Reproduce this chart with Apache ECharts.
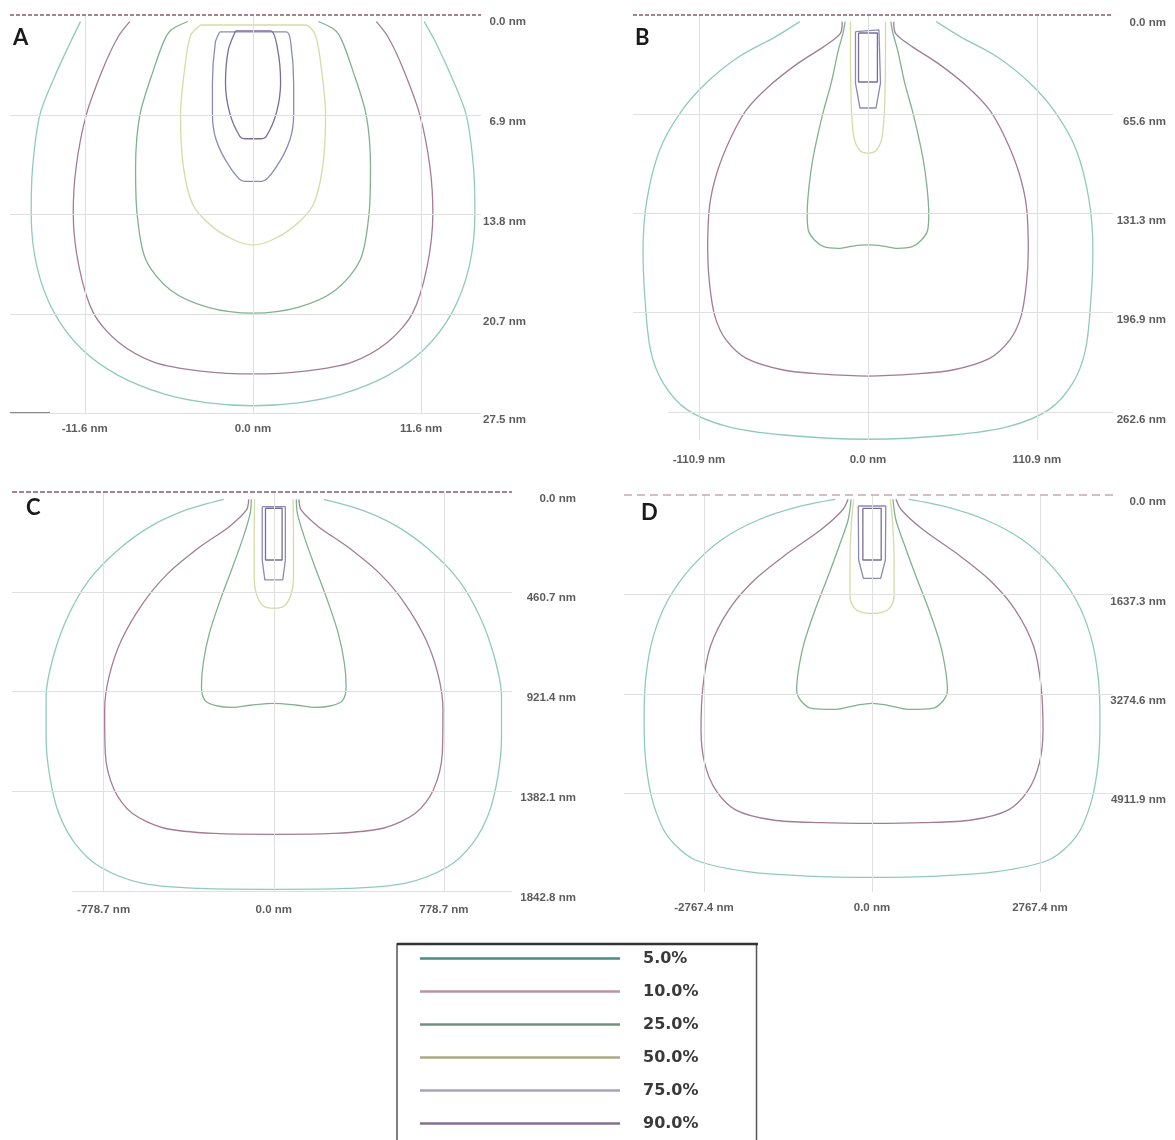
<!DOCTYPE html>
<html><head><meta charset="utf-8">
<script src="https://cdn.jsdelivr.net/npm/echarts/dist/echarts.min.js"></script>
<style>html,body{margin:0;padding:0;background:#fff}#c{width:1175px;height:1140px}</style>
</head><body><div id="c"></div>
<script>
// ---------- DATA (x in nm, depth in nm) ----------
const levels = ['5.0%','10.0%','25.0%','50.0%','75.0%','90.0%'];

// Panel A
const A_xTicks = [-11.6, 0, 11.6];
const A_yTicks = [0, 6.9, 13.8, 20.7, 27.5];
const A_5  = [[-11.9,0.46],[-12.6,1.9],[-13.7,4.3],[-14.7,6.9],[-15.2,10.5],[-15.3,13.7],[-14.9,17.4],[-13.7,20.6],[-11.8,23.1],[-9.3,24.9],[-6.1,26.2],[-3.1,26.8],[0,27.0],[3.1,26.8],[6.1,26.2],[9.3,24.9],[11.8,23.1],[13.7,20.6],[14.9,17.4],[15.3,13.7],[15.2,10.5],[14.7,6.9],[13.7,4.3],[12.6,1.9],[11.8,0.46]];
const A_10 = [[-8.5,0.46],[-9.3,1.5],[-10.3,3.6],[-11.5,6.9],[-12.2,10.5],[-12.4,13.7],[-12.0,17.4],[-11.0,20.6],[-9.3,22.6],[-6.8,24.0],[-3.6,24.6],[0,24.8],[3.6,24.6],[6.8,24.0],[9.3,22.6],[11.0,20.6],[12.0,17.4],[12.4,13.7],[12.2,10.5],[11.5,6.9],[10.3,3.6],[9.3,1.5],[8.5,0.46]];
const A_25 = [[-4.5,0.45],[-5.6,1.0],[-6.1,1.7],[-6.8,3.6],[-7.8,6.9],[-8.1,10.5],[-8.0,13.7],[-7.4,16.9],[-5.7,19.0],[-3.1,20.2],[0,20.6],[3.1,20.2],[5.7,19.0],[7.4,16.9],[8.0,13.7],[8.1,10.5],[7.8,6.9],[6.8,3.6],[6.1,1.7],[5.6,1.0],[4.5,0.45]];
const A_50 = [[-3.6,0.69],[-4.3,1.4],[-4.7,3.6],[-5.0,6.9],[-4.8,10.5],[-4.1,13.2],[-2.3,15.0],[0,15.9],[2.3,15.0],[4.1,13.2],[4.8,10.5],[5.0,6.9],[4.7,3.6],[4.3,1.4],[3.6,0.69],[-3.6,0.69]];
const A_75 = [[-2.3,1.17],[-2.6,1.9],[-2.8,4.7],[-2.8,6.8],[-2.55,8.6],[-1.6,10.5],[-0.6,11.5],[0.6,11.5],[1.6,10.5],[2.55,8.6],[2.8,6.8],[2.8,4.7],[2.6,1.9],[2.3,1.17],[-2.3,1.17]];
const A_90 = [[-1.2,1.1],[-1.7,2.4],[-1.9,4.7],[-1.6,6.8],[-0.9,8.4],[-0.5,8.55],[0.5,8.55],[0.9,8.4],[1.6,6.8],[1.9,4.7],[1.7,2.4],[1.2,1.1],[-1.2,1.1]];
const A_edgeMark = [[-16.76,27.5],[-14.0,27.5]];

// Panel B
const B_xTicks = [-110.9, 0, 110.9];
const B_yTicks = [0, 65.6, 131.3, 196.9, 262.6];
const B_5  = [[-44.8,4.4],[-60.5,14.3],[-84.7,27.6],[-106.4,45.2],[-123.4,65.0],[-136.7,89.3],[-145.1,122.4],[-147.6,155.4],[-146.3,188.5],[-142.7,221.6],[-134.3,243.6],[-118.5,261.2],[-91.9,272.3],[-55.6,277.8],[0,280.6],[55.6,277.8],[91.9,272.3],[118.5,261.2],[134.3,243.6],[142.7,221.6],[146.3,188.5],[147.6,155.4],[145.1,122.4],[136.7,89.3],[123.4,65.0],[106.4,45.2],[84.7,27.6],[60.5,14.3],[44.8,4.4]];
const B_10 = [[-16.9,4.4],[-18.1,12.1],[-29.0,20.9],[-46.0,32.0],[-65.3,47.4],[-79.8,62.8],[-90.7,82.7],[-99.2,104.7],[-104.0,126.8],[-105.2,155.4],[-104.0,177.5],[-100.4,199.5],[-93.1,214.9],[-79.8,227.1],[-55.6,234.8],[-31.4,237.4],[0,238.8],[31.4,237.4],[55.6,234.8],[79.8,227.1],[93.1,214.9],[100.4,199.5],[104.0,177.5],[105.2,155.4],[104.0,126.8],[99.2,104.7],[90.7,82.7],[79.8,62.8],[65.3,47.4],[46.0,32.0],[29.0,20.9],[18.1,12.1],[16.9,4.4]];
const B_25 = [[-15.0,4.4],[-16.4,12.1],[-19.4,23.1],[-24.2,45.2],[-29.0,62.8],[-32.7,78.3],[-36.3,95.9],[-38.7,113.5],[-39.9,131.2],[-39.2,142.2],[-35.1,148.8],[-29.0,153.2],[-19.4,154.3],[-9.7,152.8],[0,152.1],[9.7,152.8],[19.4,154.3],[29.0,153.2],[35.1,148.8],[39.2,142.2],[39.9,131.2],[38.7,113.5],[36.3,95.9],[32.7,78.3],[29.0,62.8],[24.2,45.2],[19.4,23.1],[16.4,12.1],[15.0,4.4]];
const B_50 = [[-11.5,4.4],[-11.5,25],[-11.3,45],[-10.7,65],[-9.0,82],[-5.0,90],[0,91.3],[5.0,90],[9.0,82],[10.7,65],[11.3,45],[11.5,25],[11.5,4.4]];
const B_75 = [[-8.2,11],[-7.2,9.9],[7.2,9.9],[8.2,11],[8.2,45],[5.3,61.5],[-5.3,61.5],[-8.2,45],[-8.2,11]];
const B_90 = [[-6.2,11.9],[6.2,11.9],[6.2,44.3],[-6.2,44.3],[-6.2,11.9]];

// Panel C
const C_xTicks = [-778.7, 0, 778.7];
const C_yTicks = [0, 460.7, 921.4, 1382.1, 1842.8];
const C_5  = [[-229,34],[-401,83],[-566,160],[-713,268],[-845,406],[-943,576],[-1009,761],[-1042,945],[-1042,1130],[-1025,1315],[-984,1484],[-910,1623],[-796,1731],[-599,1808],[-336,1831],[0,1835],[336,1831],[599,1808],[796,1731],[910,1623],[984,1484],[1025,1315],[1042,1130],[1042,945],[1009,761],[943,576],[845,406],[713,268],[566,160],[401,83],[229,34]];
const C_10 = [[-115,34],[-125,83],[-204,160],[-336,252],[-484,376],[-599,514],[-697,684],[-754,853],[-774,1007],[-771,1207],[-730,1376],[-648,1484],[-500,1553],[-270,1577],[0,1581],[270,1577],[500,1553],[648,1484],[730,1376],[771,1207],[774,1007],[754,853],[697,684],[599,514],[484,376],[336,252],[204,160],[125,83],[115,34]];
const C_25 = [[-103,34],[-108,99],[-139,206],[-188,345],[-245,499],[-295,653],[-323,791],[-331,899],[-316,961],[-270,985],[-188,995],[-106,985],[0,976],[106,985],[188,995],[270,985],[316,961],[331,899],[323,791],[295,653],[245,499],[188,345],[139,206],[108,99],[103,34]];
const C_50 = [[-88,34],[-90,200],[-90,400],[-80,470],[-50,525],[0,537],[50,525],[80,470],[90,400],[90,200],[88,34]];
const C_75 = [[-53,68],[53,68],[53,314],[41,406],[-41,406],[-53,314],[-53,68]];
const C_90 = [[-38,75],[38,75],[38,314],[-38,314],[-38,75]];

// Panel D
const D_xTicks = [-2767.4, 0, 2767.4];
const D_yTicks = [0, 1637.3, 3274.6, 4911.9];
const D_5  = [[-606,71],[-1211,192],[-1878,412],[-2483,741],[-2968,1181],[-3362,1730],[-3604,2334],[-3725,2993],[-3755,3707],[-3725,4421],[-3604,5080],[-3362,5629],[-2907,6013],[-2059,6205],[-1090,6277],[0,6299],[1090,6277],[2059,6205],[2907,6013],[3362,5629],[3604,5080],[3725,4421],[3755,3707],[3725,2993],[3604,2334],[3362,1730],[2968,1181],[2483,741],[1878,412],[1211,192],[606,71]];
const D_10 = [[-394,71],[-485,247],[-848,577],[-1393,961],[-1938,1400],[-2362,1895],[-2665,2499],[-2786,3158],[-2817,3871],[-2756,4421],[-2574,4860],[-2241,5190],[-1635,5354],[-848,5398],[0,5409],[848,5398],[1635,5354],[2241,5190],[2574,4860],[2756,4421],[2817,3871],[2786,3158],[2665,2499],[2362,1895],[1938,1400],[1393,961],[848,577],[485,247],[394,71]];
const D_25 = [[-345,71],[-394,412],[-545,851],[-727,1345],[-939,1895],[-1121,2444],[-1211,2883],[-1242,3213],[-1181,3377],[-999,3515],[-606,3531],[-242,3460],[0,3432],[242,3460],[606,3531],[999,3515],[1181,3377],[1242,3213],[1211,2883],[1121,2444],[939,1895],[727,1345],[545,851],[394,412],[345,71]];
const D_50 = [[-303,71],[-335,400],[-363,1000],[-363,1675],[-300,1850],[-180,1930],[0,1950],[180,1930],[300,1850],[363,1675],[363,1000],[335,400],[303,71]];
const D_75 = [[-227,181],[227,181],[220,1071],[142,1373],[-142,1373],[-220,1071],[-227,181]];
const D_90 = [[-151,220],[151,220],[151,1071],[-151,1071],[-151,220]];

// ---------- LAYOUT / STYLE ----------
const lineColors   = ['#8fcbbd','#a47c93','#80b290','#d5dba4','#8a8ab6','#7a6d97'];
const legendColors = ['#4f8a80','#b8959e','#6f9280','#a8aa84','#a4a4bc','#83708f'];
const tickFont = {fontFamily:'Liberation Sans, Arial, sans-serif', fontSize:11.5, fontWeight:'bold', color:'#333'};

const panels = [
  {key:'A', rect:{left:10, top:15, width:471, height:398}, x:[-16.76,15.72], y:[0,27.5],
   xTicks:A_xTicks, yTicks:A_yTicks, curves:[A_5,A_10,A_25,A_50,A_75,A_90], smooth:[.3,.3,.3,.3,.3,.3],
   ylab:[45,7], xlab:16, dash:{color:'#8e5a68', type:[4,2]}, letter:[13,27], bottomStart:null},
  {key:'B', rect:{left:633, top:15, width:480, height:425}, x:[-154.2,160.8], y:[0,281.1],
   xTicks:B_xTicks, yTicks:B_yTicks, curves:[B_5,B_10,B_25,B_50,B_75,B_90], smooth:[.3,.3,.3,.3,0,0],
   ylab:[53,7.5], xlab:20, dash:{color:'#8e5a68', type:[4,2]}, letter:[635,27], bottomStart:-131},
  {key:'C', rect:{left:12, top:492, width:500, height:399}, x:[-1198,1090], y:[0,1842.8],
   xTicks:C_xTicks, yTicks:C_yTicks, curves:[C_5,C_10,C_25,C_50,C_75,C_90], smooth:[.3,.3,.3,.3,0,0],
   ylab:[64,6.5], xlab:19, dash:{color:'#8e5a68', type:[5,2]}, letter:[26,497], bottomStart:-921},
  {key:'D', rect:{left:624, top:495, width:489, height:397}, x:[-4086,3970], y:[0,6540],
   xTicks:D_xTicks, yTicks:D_yTicks, curves:[D_5,D_10,D_25,D_50,D_75,D_90], smooth:[.3,.3,.3,.3,0,0],
   ylab:[53,7], xlab:16, dash:{color:'#c7a9b0', type:[8,5]}, letter:[641,502], bottomStart:null}
];

const grids=[], xAxes=[], yAxes=[], series=[], titles=[];
panels.forEach((p, i) => {
  grids.push(Object.assign({containLabel:false}, p.rect));
  xAxes.push({type:'value', gridIndex:i, min:p.x[0], max:p.x[1], show:false});
  yAxes.push({type:'value', gridIndex:i, min:p.y[0], max:p.y[1], inverse:true, show:false});
  titles.push({text:p.key, left:p.letter[0], top:p.letter[1], padding:0,
    textStyle:{fontFamily:'Lato, Open Sans, sans-serif', fontWeight:'bold', fontSize:22, lineHeight:22, color:'#1a1a1a'}});

  const gridStyle = {color:'#e0e0e0', width:1, type:'solid'};
  const ml = [];
  p.xTicks.forEach(v => ml.push([{coord:[v, p.y[0]], lineStyle:gridStyle},{coord:[v, p.y[1]], lineStyle:gridStyle}]));
  p.yTicks.forEach((v, k) => {
    if (k === 0) return;
    const isLast = k === p.yTicks.length - 1;
    const x0 = (isLast && p.bottomStart !== null) ? p.bottomStart : p.x[0];
    ml.push([{coord:[x0, v], lineStyle:gridStyle},{coord:[p.x[1], v], lineStyle:gridStyle}]);
  });
  const dashStyle = {color:p.dash.color, width:1.6, type:p.dash.type};
  ml.push([{coord:[p.x[0], 0], lineStyle:dashStyle},{coord:[p.x[1], 0], lineStyle:dashStyle}]);

  series.push({type:'line', name:'grid'+p.key, xAxisIndex:i, yAxisIndex:i, data:[], z:1, silent:true,
    markLine:{silent:true, symbol:['none','none'], animation:false, label:{show:false}, data:ml}});

  p.curves.forEach((d, k) => {
    series.push({type:'line', name:levels[k], xAxisIndex:i, yAxisIndex:i, data:d,
      showSymbol:false, symbol:'none', smooth:p.smooth[k], silent:true, z:3,
      color:lineColors[k], lineStyle:{color:lineColors[k], width:1.3}});
  });

  // y tick labels (right side)
  series.push({type:'scatter', xAxisIndex:i, yAxisIndex:i, symbolSize:0.1, silent:true, clip:false, z:5,
    itemStyle:{color:'rgba(0,0,0,0)'},
    data:p.yTicks.map(v => [p.x[1], v]),
    label:Object.assign({show:true, position:[p.ylab[0], p.ylab[1]], align:'right', verticalAlign:'middle',
      formatter: q => q.value[1].toFixed(1) + ' nm'}, tickFont)});
  // x tick labels (bottom)
  series.push({type:'scatter', xAxisIndex:i, yAxisIndex:i, symbolSize:0.1, silent:true, clip:false, z:5,
    itemStyle:{color:'rgba(0,0,0,0)'},
    data:p.xTicks.map(v => [v, p.y[1]]),
    label:Object.assign({show:true, position:[0, p.xlab], align:'center', verticalAlign:'middle',
      formatter: q => q.value[0].toFixed(1) + ' nm'}, tickFont)});
});

// small dark edge mark at bottom-left of panel A
series.push({type:'line', xAxisIndex:0, yAxisIndex:0, data:A_edgeMark, showSymbol:false, symbol:'none',
  silent:true, z:4, lineStyle:{color:'#8a8a8a', width:2}});

const chart = echarts.init(document.getElementById('c'), null, {renderer:'canvas'});
chart.setOption({
  animation:false,
  backgroundColor:'#ffffff',
  title:titles,
  grid:grids, xAxis:xAxes, yAxis:yAxes,
  legend:{
    orient:'vertical', left:397, top:944, width:360, height:260,
    data:levels.map((n,k) => ({name:n, itemStyle:{color:legendColors[k]}})),
    icon:'rect', itemWidth:200, itemHeight:2.5, itemGap:16,
    padding:[6,58,30,23], borderColor:'#555', borderWidth:1.5, backgroundColor:'#fff',
    selectedMode:false,
    textStyle:{fontFamily:'DejaVu Sans, Verdana, sans-serif', fontSize:16, fontWeight:'bold', color:'#3a3a3a', lineHeight:17, padding:[0,0,0,18]}
  },
  graphic:[
    {type:'line', silent:true, z:100, shape:{x1:397, y1:944, x2:758, y2:944}, style:{stroke:'#333', lineWidth:2.5}}
  ],
  series:series
});
</script></body></html>
